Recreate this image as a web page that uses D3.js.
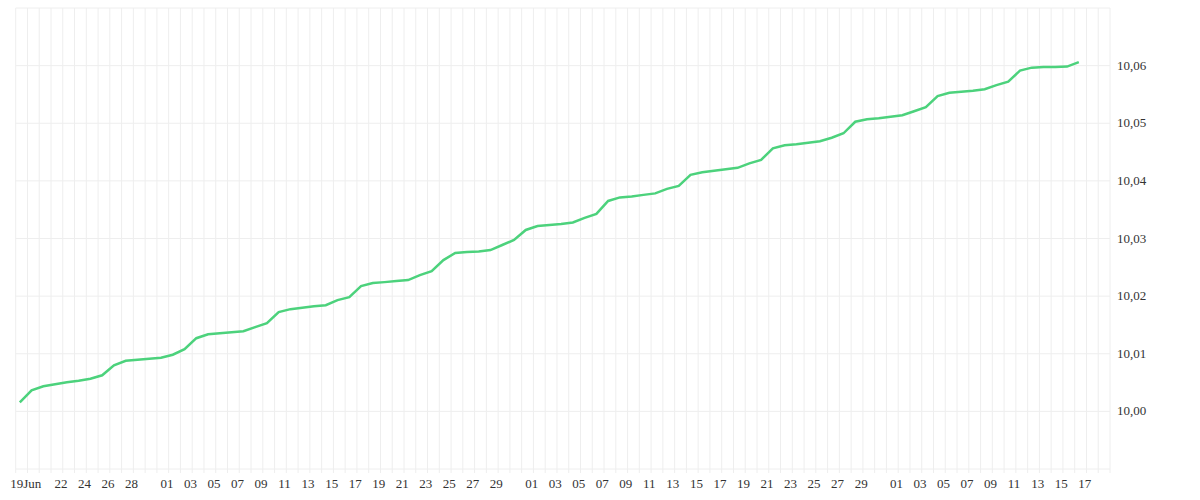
<!DOCTYPE html>
<html><head><meta charset="utf-8">
<script src="https://cdn.jsdelivr.net/npm/d3@7"></script>
<style>body{margin:0;background:#fff}</style></head>
<body><svg id="c" width="1200" height="500"></svg>
<script>
const startDate = "2023-06-19";
const values = [10.00157,10.00365,10.00435,10.00470,10.00504,10.00530,10.00565,10.00626,10.00800,10.00878,10.00896,10.00913,10.00930,10.00983,10.01078,10.01270,10.01339,10.01357,10.01374,10.01391,10.01461,10.01530,10.01722,10.01774,10.01800,10.01826,10.01843,10.01930,10.01983,10.02174,10.02226,10.02243,10.02261,10.02278,10.02365,10.02435,10.02626,10.02748,10.02765,10.02774,10.02800,10.02887,10.02974,10.03148,10.03217,10.03235,10.03252,10.03278,10.03357,10.03426,10.03652,10.03713,10.03730,10.03757,10.03783,10.03861,10.03913,10.04104,10.04148,10.04174,10.04200,10.04226,10.04304,10.04365,10.04565,10.04617,10.04635,10.04661,10.04687,10.04748,10.04826,10.05026,10.05070,10.05087,10.05113,10.05139,10.05209,10.05278,10.05470,10.05530,10.05548,10.05565,10.05591,10.05661,10.05722,10.05913,10.05965,10.05974,10.05974,10.05983,10.06061];
const yTicks = [10.00,10.01,10.02,10.03,10.04,10.05,10.06];
const xTickLabels = ["19Jun","22","24","26","28","01","03","05","07","09","11","13","15","17","19","21","23","25","27","29","01","03","05","07","09","11","13","15","17","19","21","23","25","27","29","01","03","05","07","09","11","13","15","17"];
const xTickDates = ["2023-06-19","2023-06-22","2023-06-24","2023-06-26","2023-06-28","2023-07-01","2023-07-03","2023-07-05","2023-07-07","2023-07-09","2023-07-11","2023-07-13","2023-07-15","2023-07-17","2023-07-19","2023-07-21","2023-07-23","2023-07-25","2023-07-27","2023-07-29","2023-08-01","2023-08-03","2023-08-05","2023-08-07","2023-08-09","2023-08-11","2023-08-13","2023-08-15","2023-08-17","2023-08-19","2023-08-21","2023-08-23","2023-08-25","2023-08-27","2023-08-29","2023-09-01","2023-09-03","2023-09-05","2023-09-07","2023-09-09","2023-09-11","2023-09-13","2023-09-15","2023-09-17"];

const parse = d3.utcParse("%Y-%m-%d");
const DAY = 864e5;
const t0 = parse(startDate);
const data = values.map((v,i)=>({t:new Date(+t0 + i*DAY + 0.35*DAY), v}));
const x = d3.scaleUtc().domain([t0, parse("2023-09-20")]).range([15.7,1110]);
const y = d3.scaleLinear().domain([9.99,10.07]).range([469,8]);
const svg = d3.select("#c");
const font = "'Liberation Serif', 'DejaVu Serif', serif";

const g = svg.append("g");
d3.utcDays(t0, parse("2023-09-21")).forEach(d=>{
  g.append("line").attr("x1",x(d)).attr("x2",x(d)).attr("y1",8).attr("y2",473)
   .attr("stroke","#eeeeee").attr("stroke-width",1);
});
d3.range(9.99,10.0701,0.01).forEach(v=>{
  g.append("line").attr("x1",15.7).attr("x2",1110).attr("y1",y(v)).attr("y2",y(v))
   .attr("stroke","#eeeeee").attr("stroke-width",1);
});

const fmt = d3.formatLocale({decimal:",",thousands:".",grouping:[3],currency:["",""]}).format(".2f");
svg.selectAll(".yt").data(yTicks).enter().append("text")
  .attr("x",1117).attr("y",d=>y(d)+4).text(d=>fmt(d))
  .attr("font-family",font).attr("font-size",13).attr("fill","#333");

svg.selectAll(".xt").data(xTickLabels).enter().append("text")
  .attr("x",(d,i)=>x(new Date(+parse(xTickDates[i])+0.85*DAY))).attr("y",488)
  .attr("text-anchor","middle").text(d=>d)
  .attr("font-family",font).attr("font-size",13).attr("fill","#333");

svg.append("path").datum(data)
  .attr("d", d3.line().x(d=>x(d.t)).y(d=>y(d.v)))
  .attr("fill","none").attr("stroke","#4cd27c").attr("stroke-width",2.5);
</script></body></html>
